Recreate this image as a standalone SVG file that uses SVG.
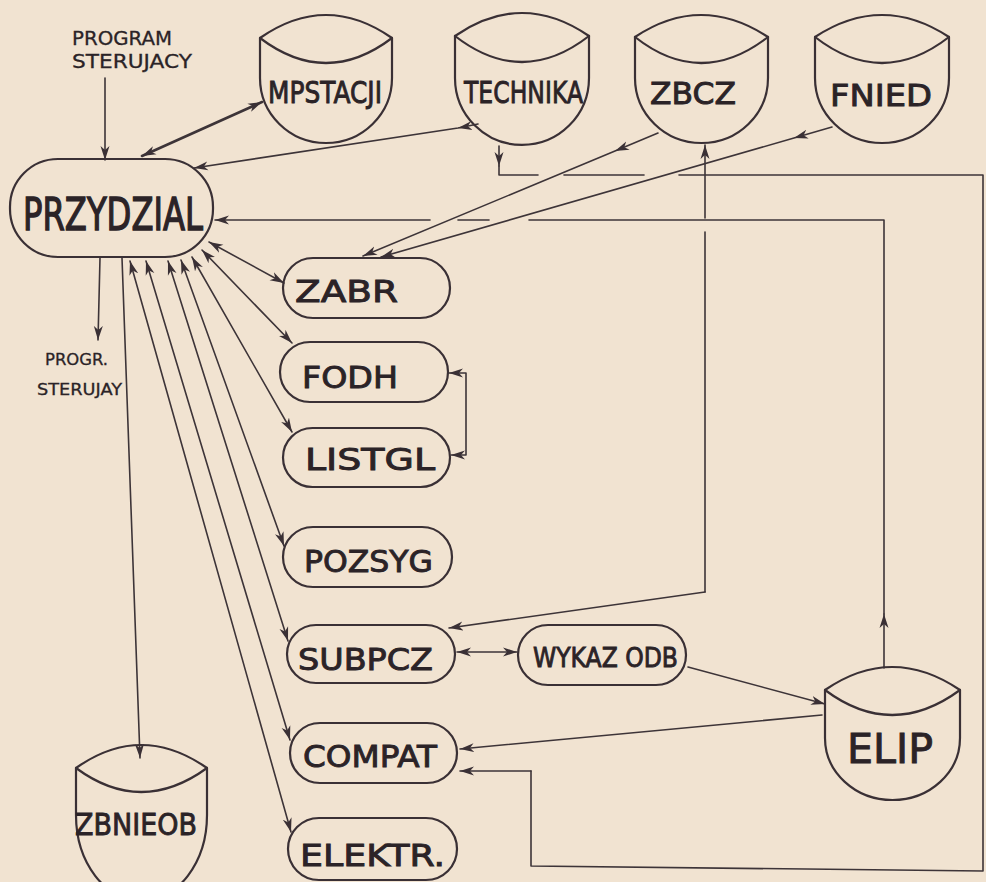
<svg xmlns="http://www.w3.org/2000/svg" width="986" height="882" viewBox="0 0 986 882">
<defs>
<marker id="ah" markerUnits="userSpaceOnUse" markerWidth="16" markerHeight="10" refX="14" refY="5" orient="auto-start-reverse" viewBox="0 0 16 10">
<path d="M0,0.5 L14,5 L0,9.5 L4,5 Z" fill="#3a3035"/>
</marker>
<style>
.bg{fill:#f1e3d1}
.shape{fill:none;stroke:#3a3035;stroke-width:2.2;stroke-linecap:round;stroke-linejoin:round}
.ln{fill:none;stroke:#3d3438;stroke-width:1.6;stroke-linecap:round;stroke-linejoin:round}
.thick{stroke-width:2.6}
.arr{marker-end:url(#ah)}
.both{marker-start:url(#ah);marker-end:url(#ah)}
.mid{marker-mid:url(#ah);marker-end:url(#ah)}
.t{font-family:"DejaVu Sans","Liberation Sans",sans-serif;fill:#2b2327;stroke:#2b2327;stroke-width:0.9;text-anchor:start}
.big{font-size:44px;stroke-width:1.4}
.lab{font-size:30px}
.sm{font-size:19px;stroke-width:0.3}
.xs{font-size:16px;stroke-width:0.3}
</style>
</defs>
<rect class="bg" x="0" y="0" width="986" height="882"/>

<g id="connectors">
<path class="ln arr" d="M105,78 L105,160"/>
<path class="ln thick both" d="M142,156 L262,102"/>
<polyline class="ln mid" points="478,124 458,128 194,168"/>
<path class="ln arr" d="M499,146 L499,166"/>
<path class="ln" d="M499,166 L499,175 L538,175"/>
<path class="ln" d="M564,175 L644,175"/>
<path class="ln" d="M679,175 L983,175 L983,871 L531,866 L531,771"/>
<path class="ln arr" d="M531,771 L460,771"/>
<polyline class="ln mid" points="658,133 615,151 363,256"/>
<polyline class="ln mid" points="832,127 794,138 381,257"/>
<path class="ln arr" d="M705,218 L705,145"/>
<path class="ln" d="M705,232 L705,592"/>
<path class="ln arr" d="M705,592 L449,628"/>
<path class="ln arr" d="M884,668 L884,614"/>
<path class="ln" d="M884,614 L884,220 L529,220"/>
<path class="ln" d="M489,220 L458,220"/>
<path class="ln arr" d="M430,220 L215,220"/>
<path class="ln both" d="M209,242 L284,283"/>
<path class="ln both" d="M202,250 L292,343"/>
<path class="ln both" d="M192,257 L292,432"/>
<path class="ln both" d="M181,260 L284,546"/>
<path class="ln both" d="M168,261 L288,641"/>
<path class="ln both" d="M146,261 L290,740"/>
<path class="ln both" d="M130,261 L291,832"/>
<path class="ln arr" d="M122,258 L140,758"/>
<path class="ln arr" d="M100,258 L98,340"/>
<path class="ln both" d="M449,373 L466,373 L466,455 L451,455"/>
<path class="ln both" d="M457,652 L517,652"/>
<path class="ln arr" d="M688,667 L825,704"/>
<path class="ln arr" d="M822,715 L460,749"/>
</g>

<g id="label-program">
<text class="t sm" x="72" y="45" textLength="100" lengthAdjust="spacingAndGlyphs">PROGRAM</text>
<text class="t sm" x="72" y="68" textLength="120" lengthAdjust="spacingAndGlyphs">STERUJACY</text>
</g>
<g id="label-progr">
<text class="t xs" x="45" y="365" textLength="63" lengthAdjust="spacingAndGlyphs">PROGR.</text>
<text class="t xs" x="37" y="395" textLength="85" lengthAdjust="spacingAndGlyphs">STERUJAY</text>
</g>

<g id="PRZYDZIAL">
<rect class="shape" x="10" y="159" width="203" height="98" rx="48" ry="48"/>
<text class="t big" x="23" y="230" textLength="180" lengthAdjust="spacingAndGlyphs">PRZYDZIAL</text>
</g>

<g id="MPSTACJI">
<path class="shape" d="M260,38 Q326,-8 392,38 L392,78 A66,65 0 0 1 260,78 Z"/>
<path class="shape" d="M260,38 Q326,88 392,38"/>
<text class="t lab" x="268" y="103" textLength="114" lengthAdjust="spacingAndGlyphs">MPSTACJI</text>
</g>
<g id="TECHNIKA">
<path class="shape" d="M455,36 Q522,-10 589,36 L589,78 A67,67 0 0 1 455,78 Z"/>
<path class="shape" d="M455,36 Q522,88 589,36"/>
<text class="t lab" x="464" y="103" textLength="119" lengthAdjust="spacingAndGlyphs">TECHNIKA</text>
</g>
<g id="ZBCZ">
<path class="shape" d="M635,37 Q701,-7 768,37 L768,78 A66.5,65 0 0 1 635,78 Z"/>
<path class="shape" d="M635,37 Q701,89 768,37"/>
<text class="t lab" x="650" y="104" textLength="86" lengthAdjust="spacingAndGlyphs">ZBCZ</text>
</g>
<g id="FNIED">
<path class="shape" d="M815,37 Q882,-7 949,37 L949,78 A67,65 0 0 1 815,78 Z"/>
<path class="shape" d="M815,37 Q882,89 949,37"/>
<text class="t lab" x="830" y="106" textLength="102" lengthAdjust="spacingAndGlyphs">FNIED</text>
</g>

<g id="ZABR">
<rect class="shape" x="283" y="258" width="167" height="60" rx="30" ry="30"/>
<text class="t lab" x="295" y="302" textLength="103" lengthAdjust="spacingAndGlyphs">ZABR</text>
</g>
<g id="FODH">
<rect class="shape" x="280" y="342" width="168" height="60" rx="30" ry="30"/>
<text class="t lab" x="302" y="388" textLength="96" lengthAdjust="spacingAndGlyphs">FODH</text>
</g>
<g id="LISTGL">
<rect class="shape" x="283" y="428" width="167" height="59" rx="29.5" ry="29.5"/>
<text class="t lab" x="305" y="470" textLength="130" lengthAdjust="spacingAndGlyphs">LISTGL</text>
</g>
<g id="POZSYG">
<rect class="shape" x="283" y="527" width="169" height="60" rx="30" ry="30"/>
<text class="t lab" x="304" y="572" textLength="129" lengthAdjust="spacingAndGlyphs">POZSYG</text>
</g>
<g id="SUBPCZ">
<rect class="shape" x="287" y="625" width="168" height="58" rx="29" ry="29"/>
<text class="t lab" x="298" y="670" textLength="135" lengthAdjust="spacingAndGlyphs">SUBPCZ</text>
</g>
<g id="WYKAZODB">
<rect class="shape" x="518" y="625" width="168" height="60" rx="30" ry="30"/>
<text class="t lab" x="533" y="667" textLength="145" lengthAdjust="spacingAndGlyphs" style="font-size:27px">WYKAZ ODB</text>
</g>
<g id="COMPAT">
<rect class="shape" x="290" y="723" width="167" height="60" rx="30" ry="30"/>
<text class="t lab" x="303" y="767" textLength="134" lengthAdjust="spacingAndGlyphs">COMPAT</text>
</g>
<g id="ELEKTR">
<rect class="shape" x="288" y="818" width="169" height="62" rx="31" ry="31"/>
<text class="t lab" x="300" y="866" textLength="145" lengthAdjust="spacingAndGlyphs">ELEKTR.</text>
</g>

<g id="ELIP">
<path class="shape" d="M825,690 Q892,644 960,690 L960,738 A67.5,62 0 0 1 825,738 Z"/>
<path class="shape" d="M825,690 Q892,740 960,690"/>
<text class="t" x="847" y="763" textLength="86" lengthAdjust="spacingAndGlyphs" style="font-size:40px">ELIP</text>
</g>
<g id="ZBNIEOB">
<path class="shape" d="M76,768 Q141,722 207,768 L207,815 A65.5,86 0 0 1 76,815 Z"/>
<path class="shape" d="M76,768 Q141,816 207,768"/>
<text class="t lab" x="75" y="835" textLength="122" lengthAdjust="spacingAndGlyphs">ZBNIEOB</text>
</g>
</svg>
